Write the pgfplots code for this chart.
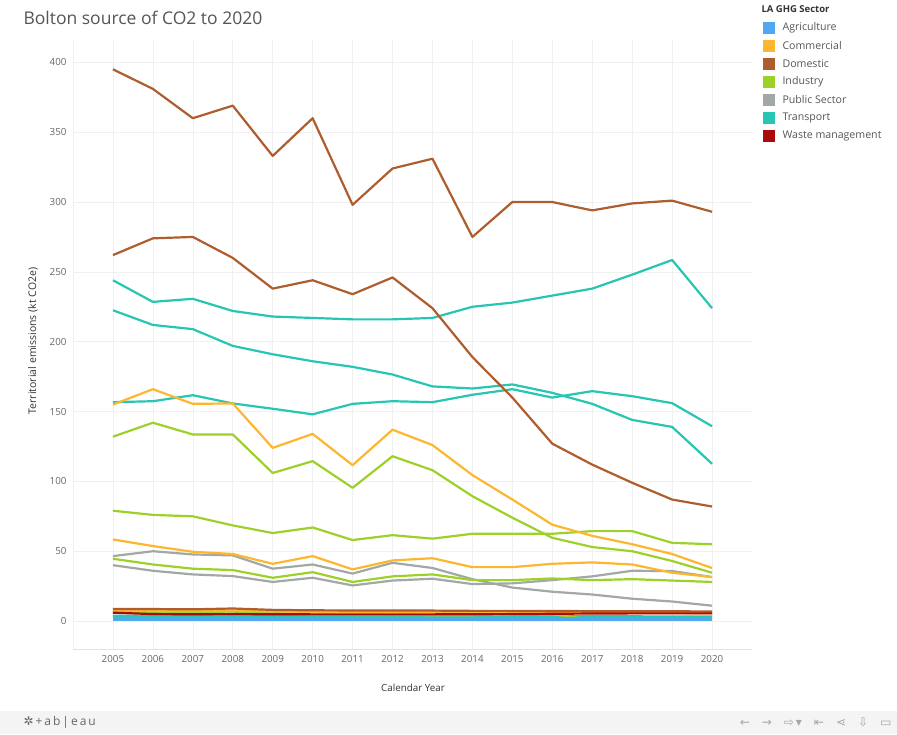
\documentclass[border=0pt]{standalone}
\usepackage{fontspec}
\setmainfont{Open Sans}
\newfontfamily\dejavu{DejaVu Sans}
\usepackage{pgfplots}
\pgfplotsset{compat=1.18}
\definecolor{cAgr}{HTML}{4FA8F0}
\definecolor{cCom}{HTML}{FDB62F}
\definecolor{cDom}{HTML}{AE5D2E}
\definecolor{cInd}{HTML}{9DD12A}
\definecolor{cPub}{HTML}{A2A8A6}
\definecolor{cTra}{HTML}{26C6B2}
\definecolor{cWas}{HTML}{AA0A0A}
\definecolor{gridc}{HTML}{F0F0F0}
\definecolor{zeroc}{HTML}{E2E2E2}
\definecolor{txt}{HTML}{666666}
\definecolor{ttl}{HTML}{555555}
\definecolor{bar}{HTML}{F4F4F4}

\pgfplotstableread{
year D1 D2 D3 C1 C2 C3 I1 I2 I3 I4 T1 T2 T3 T4 P1 P2 W A1 A2
2005 395 262 8.6 155 58.4 7.5 132 79 44.6 6.8 244 222.5 156.7 3.8 46.5 40 6.0 2.3 0.9
2006 381 274 8.6 166 53.7 7.3 142 76 40.5 6.5 228.5 212 157.4 3.8 50 36 5.0 2.3 0.9
2007 360 275 8.4 155.5 49.6 7.2 133.6 75 37.5 6.5 230.7 209 161.7 3.8 47.7 33.4 4.9 2.3 0.9
2008 369 260 9.0 155.8 48 7.6 133.6 68.5 36.5 6.8 222 197 155.8 3.7 47 32.2 5.0 2.3 0.9
2009 333 238 8.0 124 41 6.8 106 63 31 5.8 218 191 152 3.6 37.5 28 4.9 2.3 0.9
2010 360 244 7.7 134 46.5 6.6 114.5 67 35 4.5 217 186 148 3.6 40.5 31 4.8 2.3 0.9
2011 298 234 7.6 111.6 37 6.3 95.4 58 28 4.4 216 182 155.5 3.5 34 25.5 4.8 2.3 0.9
2012 324 246 7.5 137 43.4 6.4 118 61.5 32 4.4 216 176.5 157.4 3.5 41.7 29 4.8 2.3 0.9
2013 331 224 7.5 126 45 6.3 108 59 33.4 4.2 217 168 156.7 3.5 38 30.3 4.8 2.3 0.9
2014 275 189 7.3 104.5 38.6 6.1 89.4 62.5 29.3 4.2 225 166.5 162 3.5 30 26.5 4.9 2.3 0.9
2015 300 160 7.3 87 38.6 6.1 74 62.5 29.3 4.8 228 169.4 166 3.5 24 27 5.0 2.3 0.9
2016 300 127 7.2 69 41 6.0 59.6 62.5 30.5 4.9 233 163.4 160 3.5 21 29.3 5.2 2.3 0.9
2017 294 112 7.1 61 42 5.9 53 64.4 29.3 1.0 238 155.5 164.6 3.4 19 32 5.4 2.3 0.9
2018 299 99 7.0 55 40.5 5.8 50 64.4 30 1.0 248 144 161 3.4 16 36 5.5 2.3 0.9
2019 301 87 7.0 48 34.6 5.7 43 56 29 1.0 258.5 139 156 3.3 14 35.8 5.5 2.3 0.9
2020 293 82 6.9 38 31.5 5.6 34.6 55 28 1.0 224 112.6 139.5 3.3 11 31.5 5.5 2.3 0.9
}\data

\begin{document}
\begin{tikzpicture}
\begin{scope}[x=1pt,y=1pt]
\path[use as bounding box] (0,0) rectangle (897,734);
% toolbar
\fill[bar] (0,0) rectangle (897,23);
\node[anchor=west, text=txt, font=\fontsize{12}{14}\selectfont] at (20,11.5) {{\dejavu ✲}\,+\,a\,b\,|\,e\,a\,u};
\node[anchor=east, text=gray!70, font=\dejavu\fontsize{12}{14}\selectfont] at (895,11.5) {←\quad →\quad ⇨\,▾\quad ⇤\quad ⋖\quad ⇩\quad ▭};
% title
\node[anchor=west, text=ttl, font=\fontsize{17.5}{20}\selectfont] at (20,716) {Bolton source of CO2 to 2020};
% legend
\node[anchor=west, text=black!80, font=\fontsize{9.5}{11}\selectfont\bfseries] at (758,725) {LA GHG Sector};
\foreach \c/\t [count=\i] in {cAgr/Agriculture,cCom/Commercial,cDom/Domestic,cInd/Industry,cPub/Public Sector,cTra/Transport,cWas/Waste management}{
  \pgfmathsetmacro{\yy}{724-18*\i}
  \fill[\c] (763,\yy-6) rectangle (775,\yy+6);
  \node[anchor=west, text=ttl, font=\fontsize{10.6}{12}\selectfont] at (779,\yy) {\t};
}
% y label
\node[rotate=90, text=black!80, font=\fontsize{10.5}{12}\selectfont] at (33,393) {Territorial emissions (kt CO2e)};
% x label
\node[text=black!80, font=\fontsize{9.8}{11}\selectfont] at (413,46) {Calendar Year};
\end{scope}

\begin{axis}[
  at={(73pt,85pt)}, anchor=south west,
  width=679pt, height=609pt, scale only axis,
  xmin=2004, xmax=2021, ymin=-20, ymax=416,
  axis x line*=bottom, axis y line*=left,
  x axis line style={draw=zeroc},
  y axis line style={draw=gridc},
  xtick={2005,2006,...,2020},
  ytick={0,50,...,400},
  major tick length=0pt,
  grid=major,
  major grid style={draw=gridc, line width=0.6pt},
  extra y ticks={0}, extra y tick labels={},
  extra y tick style={grid style={draw=zeroc, line width=0.8pt}},
  tick label style={text=txt, font=\fontsize{9.8}{11}\selectfont},
  x tick label style={/pgf/number format/1000 sep={}, yshift=-3pt},
  y tick label style={xshift=-3pt},
  /pgf/number format/assume math mode=true,
  every axis plot/.append style={line width=2.2pt, line join=round, mark=none},
  clip=false,
]
\addplot[cPub] table[x=year,y=P1]{\data};
\addplot[cPub] table[x=year,y=P2]{\data};
\addplot[cTra] table[x=year,y=T4]{\data};
\addplot[cInd] table[x=year,y=I4]{\data};
\addplot[cInd] table[x=year,y=I3]{\data};
\addplot[cInd] table[x=year,y=I2]{\data};
\addplot[cInd] table[x=year,y=I1]{\data};
\addplot[cTra] table[x=year,y=T3]{\data};
\addplot[cTra] table[x=year,y=T2]{\data};
\addplot[cTra] table[x=year,y=T1]{\data};
\addplot[cCom] table[x=year,y=C3]{\data};
\addplot[cCom] table[x=year,y=C2]{\data};
\addplot[cCom] table[x=year,y=C1]{\data};
\addplot[cDom] table[x=year,y=D3]{\data};
\addplot[cDom] table[x=year,y=D2]{\data};
\addplot[cDom] table[x=year,y=D1]{\data};
\addplot[cWas] table[x=year,y=W]{\data};
\addplot[cAgr] table[x=year,y=A1]{\data};
\addplot[cAgr] table[x=year,y=A2]{\data};
\end{axis}
\end{tikzpicture}
\end{document}
